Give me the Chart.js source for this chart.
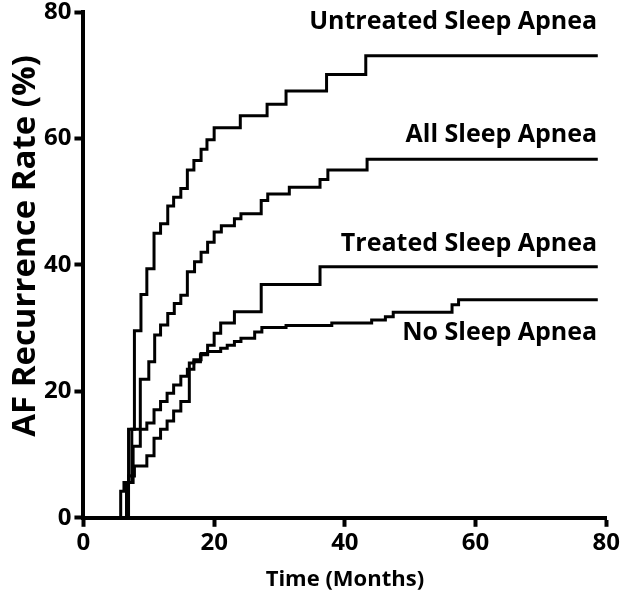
<!DOCTYPE html>
<html>
<head>
<meta charset="utf-8">
<script src="https://cdn.jsdelivr.net/npm/chart.js@4.4.1/dist/chart.umd.min.js"></script>
<style>
  html, body { margin: 0; padding: 0; background: #fff; }
  canvas { display: block; }
</style>
</head>
<body>
<canvas id="kmChart" width="622" height="597"></canvas>
<script>
// Kaplan-Meier style step curves (month, AF recurrence %)
const untreatedMonths = [0, 6.9, 7.4, 7.8, 8.8, 9.7, 10.8, 11.8, 12.9, 13.8, 14.9, 15.9, 16.9, 18, 18.9, 20, 24, 28.1, 31, 37.2, 43.2, 78.7];
const untreatedRates  = [0, 6.6, 14, 29.6, 35.3, 39.4, 45, 46.5, 49.3, 50.7, 52.1, 55, 56.5, 58.3, 59.8, 61.7, 63.6, 65.4, 67.5, 70.1, 73.1, 73.1];

const allMonths = [0, 6.6, 7.6, 8.7, 10, 10.9, 11.8, 12.9, 13.9, 14.9, 15.9, 17, 18, 19, 20, 21.1, 23.1, 24.1, 27.2, 28.2, 31.5, 36.2, 37.4, 43.4, 78.7];
const allRates  = [0, 5.6, 11.3, 21.9, 24.7, 28.9, 30.5, 32.3, 33.9, 35.2, 38.9, 40.5, 42, 43.6, 45.2, 46.2, 47.3, 48.1, 50.2, 51.2, 52.3, 53.5, 55, 56.7, 56.7];

const treatedMonths = [0, 6.6, 7.4, 7.8, 9.7, 10.8, 11.8, 12.8, 13.8, 14.9, 16.2, 16.9, 18, 19, 20, 21, 23.1, 27.2, 36.2, 78.7];
const treatedRates  = [0, 5.6, 6.6, 8.2, 9.8, 12.6, 14, 15.3, 16.9, 18.4, 24.5, 25, 26, 27.3, 29.2, 30.8, 32.6, 36.9, 39.7, 39.7];

const noneMonths = [0, 5.7, 6.2, 6.9, 9.7, 10.8, 11.8, 12.8, 13.8, 14.9, 15.9, 16.9, 17.9, 19, 21, 22, 23.1, 24.1, 26.2, 27.3, 31, 38, 44.1, 46.2, 47.4, 56.4, 57.4, 78.7];
const noneRates  = [0, 4.2, 5.6, 14, 15, 17.1, 18.4, 19.7, 21, 22.4, 23.5, 24.7, 25.8, 26.3, 26.8, 27.3, 27.9, 28.4, 29.4, 30.1, 30.4, 30.8, 31.3, 31.8, 32.5, 33.7, 34.5, 34.5];

const seriesNames = ['Untreated Sleep Apnea', 'All Sleep Apnea', 'Treated Sleep Apnea', 'No Sleep Apnea'];
const xTicks = [0, 20, 40, 60, 80];
const yTicks = [0, 20, 40, 60, 80];
const yTitle = 'AF Recurrence Rate (%)';

const FONT = '"Open Sans", "Noto Sans", sans-serif';

function toPoints(months, rates) {
    return months.map((m, i) => ({ x: m, y: rates[i] }));
}

// where each curve name sits (right edge, vertical middle) in data units
const nameAnchors = [
    { x: 78.6, y: 78.4 },
    { x: 78.6, y: 60.6 },
    { x: 78.6, y: 43.4 },
    { x: 78.6, y: 29.3 }
];

const extraText = {
    id: 'extraText',
    afterDraw(chart) {
        const { ctx, scales } = chart;
        ctx.save();
        ctx.fillStyle = '#000';
        ctx.font = 'bold 25px ' + FONT;
        ctx.textAlign = 'right';
        ctx.textBaseline = 'middle';
        seriesNames.forEach((name, i) => {
            ctx.fillText(name, scales.x.getPixelForValue(nameAnchors[i].x), scales.y.getPixelForValue(nameAnchors[i].y));
        });
        // y axis title, sits a bit above the middle of the axis
        ctx.translate(26, scales.y.getPixelForValue(43));
        ctx.rotate(-Math.PI / 2);
        ctx.textAlign = 'center';
        ctx.font = 'bold 33px ' + FONT;
        ctx.fillText(yTitle, 0, 0);
        ctx.restore();
    }
};

const series = [
    toPoints(untreatedMonths, untreatedRates),
    toPoints(allMonths, allRates),
    toPoints(treatedMonths, treatedRates),
    toPoints(noneMonths, noneRates)
];

new Chart(document.getElementById('kmChart'), {
    type: 'line',
    data: {
        datasets: series.map((pts, i) => ({
            label: seriesNames[i],
            data: pts,
            stepped: 'before',
            borderColor: '#000',
            borderWidth: 3,
            pointRadius: 0,
            fill: false
        }))
    },
    options: {
        responsive: false,
        animation: false,
        layout: { padding: { top: 0, right: 0, bottom: 0, left: 41 } },
        plugins: {
            legend: { display: false },
            tooltip: { enabled: false }
        },
        scales: {
            x: {
                type: 'linear',
                min: 0,
                max: 80,
                afterBuildTicks: axis => { axis.ticks = xTicks.map(v => ({ value: v })); },
                ticks: { color: '#000', font: { family: FONT, size: 24, weight: 'bold' }, padding: 2, maxRotation: 0 },
                grid: { drawOnChartArea: false, drawTicks: true, tickLength: 9, tickWidth: 4, tickColor: '#000' },
                border: { display: true, color: '#000', width: 4 },
                title: { display: true, text: 'Time (Months)', color: '#000', font: { family: FONT, size: 22, weight: 'bold' }, padding: { top: 7 } }
            },
            y: {
                min: 0,
                max: 80,
                afterBuildTicks: axis => { axis.ticks = yTicks.map(v => ({ value: v })); },
                ticks: { color: '#000', font: { family: FONT, size: 24, weight: 'bold', lineHeight: 0.75 }, padding: 3 },
                grid: { drawOnChartArea: false, drawTicks: true, tickLength: 9, tickWidth: 4, tickColor: '#000' },
                border: { display: true, color: '#000', width: 4 }
            }
        }
    },
    plugins: [extraText]
});
</script>
</body>
</html>
